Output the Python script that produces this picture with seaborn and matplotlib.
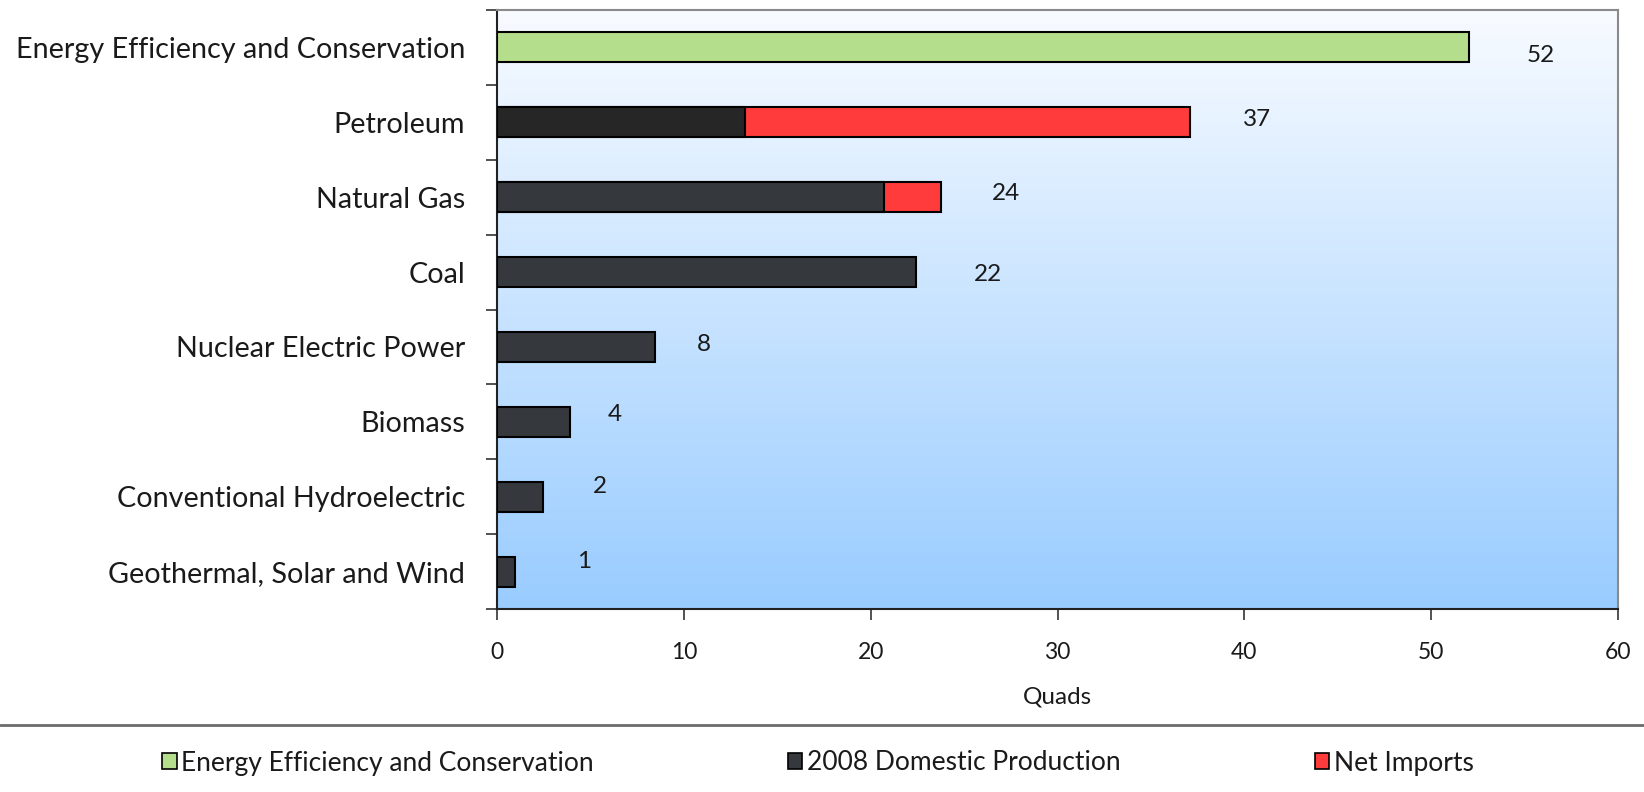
import numpy as np
import pandas as pd
import matplotlib
matplotlib.use("Agg")
import matplotlib.pyplot as plt
from matplotlib.colors import LinearSegmentedColormap
from matplotlib.lines import Line2D
from matplotlib.patches import Patch
import seaborn as sns

# Energy resources, in quads
categories = [
    "Energy Efficiency and Conservation",
    "Petroleum",
    "Natural Gas",
    "Coal",
    "Nuclear Electric Power",
    "Biomass",
    "Conventional Hydroelectric",
    "Geothermal, Solar and Wind",
]
efficiency = [52.0, 0, 0, 0, 0, 0, 0, 0]
domestic_production = [0, 13.3, 20.7, 22.4, 8.45, 3.9, 2.45, 0.96]
net_imports = [0, 23.8, 3.05, 0, 0, 0, 0, 0]
x_ticks = [0, 10, 20, 30, 40, 50, 60]
legend_labels = ["Energy Efficiency and Conservation", "2008 Domestic Production", "Net Imports"]

GREEN = "#b5de8c"
DARK = "#35393e"
DARK_PETRO = "#262626"
RED = "#ff3b3b"

df = pd.DataFrame({
    "category": categories,
    "efficiency": efficiency,
    "domestic": domestic_production,
    "imports": net_imports,
})
df["total"] = df["efficiency"] + df["domestic"] + df["imports"]

sns.set_theme(style="white")
plt.rcParams["font.family"] = ["Lato", "DejaVu Sans"]
plt.rcParams["text.color"] = "#1a1a1a"

fig = plt.figure(figsize=(16.44, 7.92), dpi=100)
ax = fig.add_axes([497 / 1644, 1 - 609 / 792, (1618 - 497) / 1644, (609 - 10) / 792])

bar_kw = dict(orient="h", order=categories, width=0.40, edgecolor="black",
              linewidth=1.5, ax=ax, zorder=3)

# stacked bars: full length in red first, domestic share drawn over it
imp = df[df["imports"] > 0]
sns.barplot(data=imp, y="category", x="total", color=RED, saturation=1, **bar_kw)

dom = df[df["domestic"] > 0]
dom_palette = {c: (DARK_PETRO if c == "Petroleum" else DARK) for c in dom["category"]}
sns.barplot(data=dom, y="category", x="domestic", hue="category", palette=dom_palette,
            legend=False, saturation=1, **bar_kw)

eff = df[df["efficiency"] > 0]
sns.barplot(data=eff, y="category", x="efficiency", color=GREEN, saturation=1, **bar_kw)

for p in ax.patches:
    p.set_zorder(3)

# white-to-blue vertical gradient behind the bars
grad_cmap = LinearSegmentedColormap.from_list("sky", ["#f8fbff", "#99ccff"])
ax.imshow(np.linspace(0, 1, 256).reshape(-1, 1), cmap=grad_cmap, aspect="auto",
          extent=[0, 60, len(categories) - 0.5, -0.5], zorder=0)
ax.set_xlim(0, 60)
ax.set_ylim(len(categories) - 0.5, -0.5)

# value labels
label_offsets = [(52, -6), (48, 2), (47, 3), (52, -1.5), (35, 2), (32, 5.5), (41, 7.5), (50, 7.5)]
for i, total in enumerate(df["total"]):
    dx, dy = label_offsets[i]
    ax.annotate(f"{total:.0f}", xy=(total, i), xytext=(dx, dy), textcoords="offset points",
                ha="center", va="center", fontsize=17.5, color="#1a1a1a", zorder=5)

# axes styling
ax.set_xticks(x_ticks)
ax.set_xticklabels([str(t) for t in x_ticks])
ax.set_yticks(range(len(categories)))
ax.set_yticklabels(categories)
ax.set_yticks(np.arange(-0.5, len(categories)), minor=True)
ax.tick_params(axis="y", which="major", length=0, pad=23, labelsize=20.7, labelcolor="#1a1a1a")
ax.tick_params(axis="y", which="minor", left=True, length=8, width=1.2, color="#333333")
ax.tick_params(axis="x", which="major", bottom=True, length=8, width=1.2, color="#333333",
               pad=16, labelsize=16.5, labelcolor="#1a1a1a")
ax.set_xlabel("Quads", fontsize=17.5, color="#1a1a1a", va="center")
ax.xaxis.set_label_coords(0.5, -(697 - 609) / 599)
ax.set_ylabel("")

for side in ["left", "bottom"]:
    ax.spines[side].set_color("#222222")
    ax.spines[side].set_linewidth(1.5)
for side in ["top", "right"]:
    ax.spines[side].set_color("#8a8a8a")
    ax.spines[side].set_linewidth(1.5)
    ax.spines[side].set_visible(True)

# separator above the legend
fig.add_artist(Line2D([0, 1], [1 - 725 / 792] * 2, transform=fig.transFigure,
                      color="#6b6b6b", linewidth=2))

handles = [Patch(facecolor=GREEN, edgecolor="black", linewidth=1.2),
           Patch(facecolor=DARK, edgecolor="black", linewidth=1.2),
           Patch(facecolor=RED, edgecolor="black", linewidth=1.2)]
fig.legend(handles, legend_labels, ncol=3, loc="center left",
           bbox_to_anchor=(162 / 1644, 1 - 763 / 792), frameon=False, fontsize=19,
           handlelength=0.55, handleheight=0.55, handletextpad=0.18, columnspacing=7.35,
           borderpad=0, borderaxespad=0)

fig.savefig("out.png", dpi=100)
